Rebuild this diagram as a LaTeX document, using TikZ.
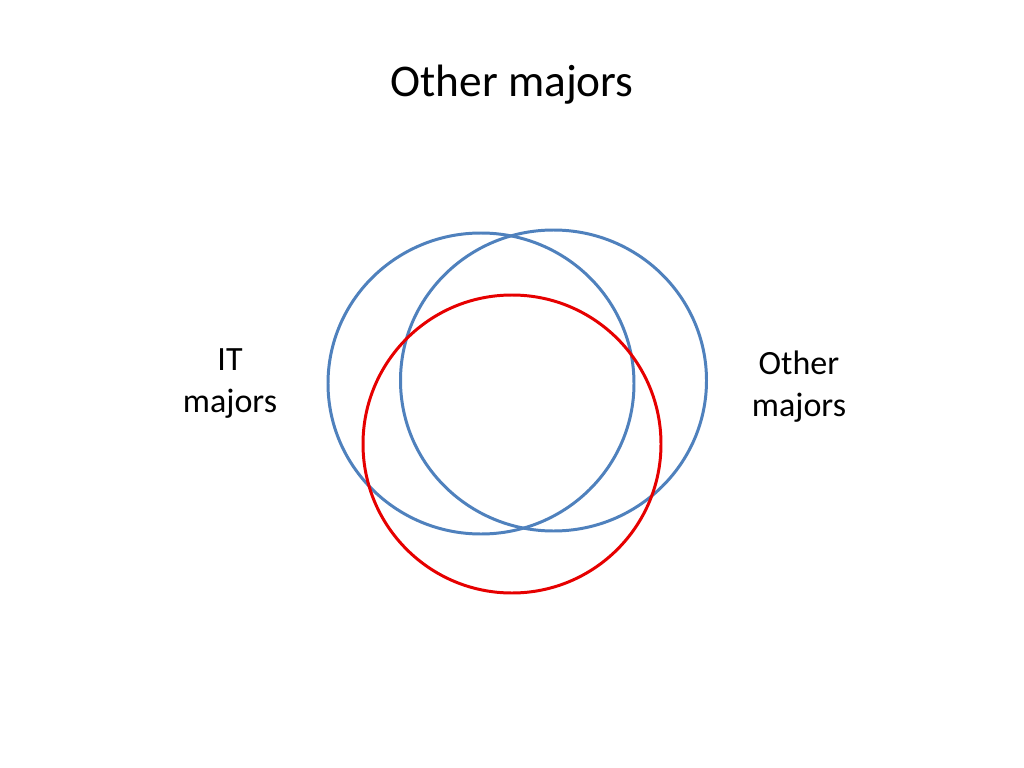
\documentclass[tikz,border=0pt]{standalone}
\usepackage{fontspec}
\setmainfont{Carlito}
\usetikzlibrary{shapes.geometric}
\definecolor{vblue}{HTML}{4F81BD}
\definecolor{vred}{HTML}{E60000}
\begin{document}
\begin{tikzpicture}[x=0.703125bp,y=-0.703125bp,
  bluering/.style={draw=vblue,line width=2.1bp,ellipse,minimum width=306*0.703125bp,minimum height=301*0.703125bp,inner sep=0pt},
  redring/.style={draw=vred,line width=2.1bp,circle,minimum size=298*0.703125bp,inner sep=0pt},
  label/.style={align=center,font=\fontsize{24}{29.5}\selectfont,inner sep=0pt},
  titlelabel/.style={font=\fontsize{32}{38}\selectfont,inner sep=0pt}]
\useasboundingbox[fill=white] (0,0) rectangle (1024,768);
\node[titlelabel] (title) at (512,85) {Other majors};
\node[bluering] (itset) at (481,383.5) {};
\node[bluering] (otherset) at (553.5,380.5) {};
\node[redring] (redset) at (512,444) {};
\node[label] (itlabel) at (230,383.5) {IT\\majors};
\node[label] (otherlabel) at (799,386.5) {Other\\majors};
\end{tikzpicture}
\end{document}
